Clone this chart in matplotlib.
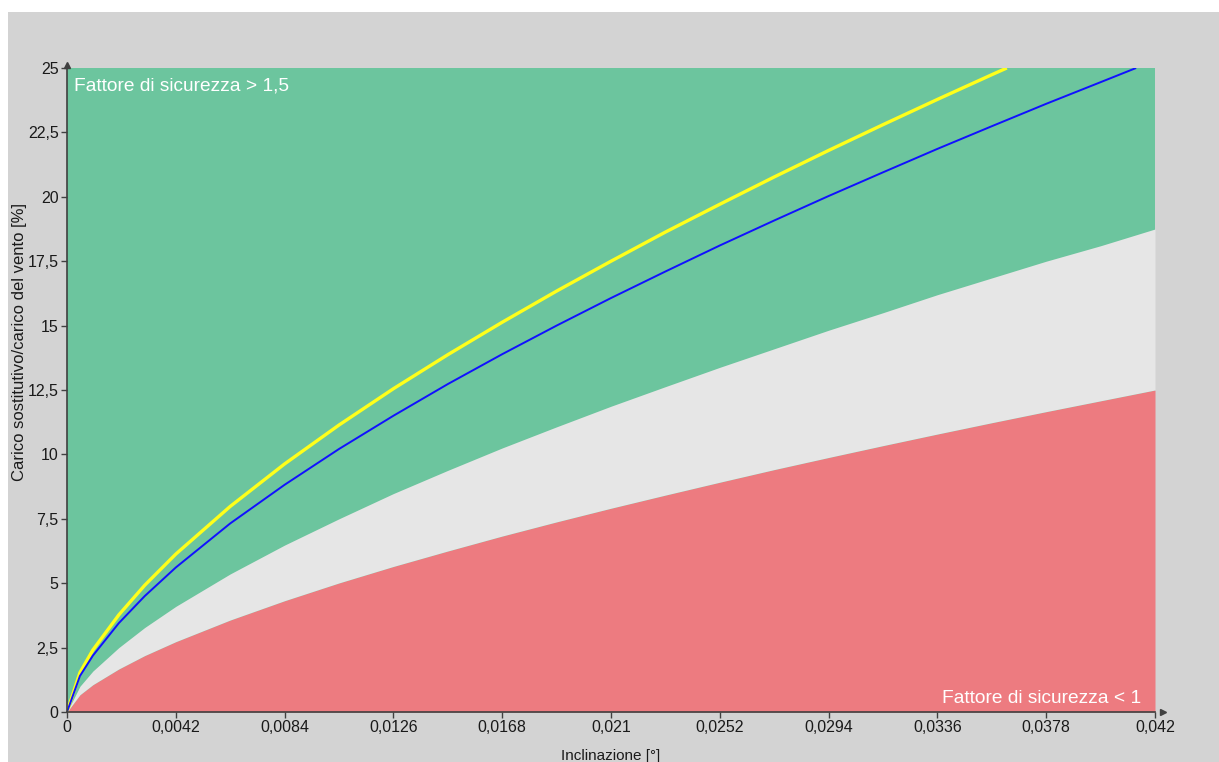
import matplotlib
matplotlib.use("Agg")
import matplotlib.pyplot as plt
from matplotlib.patches import Rectangle
import numpy as np

# ---- data ----
incl = [0, 0.0005, 0.001, 0.002, 0.003, 0.0042, 0.0063, 0.0084, 0.0105, 0.0126,
        0.0147, 0.0168, 0.0189, 0.021, 0.0231, 0.0252, 0.0273, 0.0294, 0.0315,
        0.0336, 0.0357, 0.0378, 0.0399, 0.042]
limit_fs1 = [0, 0.67, 1.06, 1.67, 2.19, 2.73, 3.57, 4.32, 5.01, 5.65, 6.25, 6.83,
             7.38, 7.91, 8.42, 8.92, 9.41, 9.88, 10.34, 10.79, 11.23, 11.66, 12.08, 12.5]
limit_fs15 = [0, 1.0, 1.59, 2.5, 3.28, 4.1, 5.36, 6.48, 7.5, 8.48, 9.38, 10.25,
              11.07, 11.87, 12.63, 13.38, 14.1, 14.82, 15.5, 16.2, 16.85, 17.5, 18.1, 18.75]

blue_x = [0, 0.0005, 0.001, 0.002, 0.003, 0.0042, 0.0063, 0.0084, 0.0105, 0.0126,
          0.0147, 0.0168, 0.0189, 0.021, 0.0231, 0.0252, 0.0273, 0.0294, 0.0315,
          0.0336, 0.0357, 0.0378, 0.0399, 0.04127]
blue_y = [0, 1.40, 2.19, 3.45, 4.50, 5.61, 7.32, 8.82, 10.21, 11.50, 12.73, 13.89,
          15.00, 16.07, 17.10, 18.11, 19.08, 20.03, 20.95, 21.86, 22.74, 23.61, 24.45, 25.0]

yellow_x = [0, 0.0005, 0.001, 0.002, 0.003, 0.0042, 0.0063, 0.0084, 0.0105, 0.0126,
            0.0147, 0.0168, 0.0189, 0.021, 0.0231, 0.0252, 0.0273, 0.0294, 0.0315,
            0.0336, 0.0357, 0.03628]
yellow_y = [0, 1.53, 2.41, 3.77, 4.92, 6.13, 7.98, 9.63, 11.14, 12.55, 13.87, 15.13,
            16.34, 17.50, 18.63, 19.71, 20.77, 21.80, 22.80, 23.78, 24.74, 25.0]

xticks = [0, 0.0042, 0.0084, 0.0126, 0.0168, 0.021, 0.0252, 0.0294, 0.0336, 0.0378, 0.042]
xtick_labels = ["0", "0,0042", "0,0084", "0,0126", "0,0168", "0,021", "0,0252",
                "0,0294", "0,0336", "0,0378", "0,042"]
yticks = [0, 2.5, 5, 7.5, 10, 12.5, 15, 17.5, 20, 22.5, 25]
ytick_labels = ["0", "2,5", "5", "7,5", "10", "12,5", "15", "17,5", "20", "22,5", "25"]

GREEN = "#6cc59e"
RED = "#ed7b80"
LIGHT = "#e6e6e6"
PANEL = "#d3d3d3"

plt.rcParams['font.family'] = ['Liberation Sans', 'DejaVu Sans']

W, H = 1219, 762
fig = plt.figure(figsize=(W / 100, H / 100), dpi=100, facecolor="white")
fig.patches.append(Rectangle((8 / W, 0), 1 - 8 / W, (H - 12) / H,
                             transform=fig.transFigure, facecolor=PANEL,
                             edgecolor="none", zorder=-10))

ax = fig.add_axes([67 / W, (H - 712) / H, (1155 - 67) / W, (712 - 68) / H])
ax.set_facecolor(GREEN)

ax.fill_between(incl, 0, limit_fs1, color=RED, lw=0, zorder=1)
ax.fill_between(incl, limit_fs1, limit_fs15, color=LIGHT, lw=0, zorder=1)

ax.plot(yellow_x, yellow_y, color="#ffff1a", lw=2.4, zorder=3, solid_capstyle="butt")
ax.plot(blue_x, blue_y, color="#1010ff", lw=1.4, zorder=4, solid_capstyle="butt")

ax.set_xlim(0, 0.042)
ax.set_ylim(0, 25)
ax.set_xticks(xticks)
ax.set_xticklabels(xtick_labels)
ax.set_yticks(yticks)
ax.set_yticklabels(ytick_labels)
ax.tick_params(direction="out", length=4, width=1, color="#404040",
               labelsize=11.5, labelcolor="#1a1a1a", pad=2)

for s in ["top", "right"]:
    ax.spines[s].set_visible(False)
for s in ["left", "bottom"]:
    ax.spines[s].set_color("#404040")
    ax.spines[s].set_linewidth(1.2)
    ax.spines[s].set_zorder(5)

# small arrow heads at axis ends
ax.plot([1.007], [0], marker=">", ms=4, color="#404040", transform=ax.transAxes, clip_on=False)
ax.plot([0], [1.005], marker="^", ms=4, color="#404040", transform=ax.transAxes, clip_on=False)

ax.set_xlabel("Inclinazione [°]", fontsize=11, color="#1a1a1a")
ax.xaxis.set_label_coords(0.5, -0.057)
ax.xaxis.label.set_va("top")
ax.set_ylabel("Carico sostitutivo/carico del vento [%]", fontsize=12, color="#1a1a1a")
ax.yaxis.set_label_coords(-0.037, 0.575)

ax.text(0.006, 0.985, "Fattore di sicurezza > 1,5", transform=ax.transAxes,
        ha="left", va="top", color="white", fontsize=13.8, zorder=6)
ax.text(0.987, 0.008, "Fattore di sicurezza < 1", transform=ax.transAxes,
        ha="right", va="bottom", color="white", fontsize=13.8, zorder=6)

fig.savefig("out.png", dpi=100, facecolor="white")
